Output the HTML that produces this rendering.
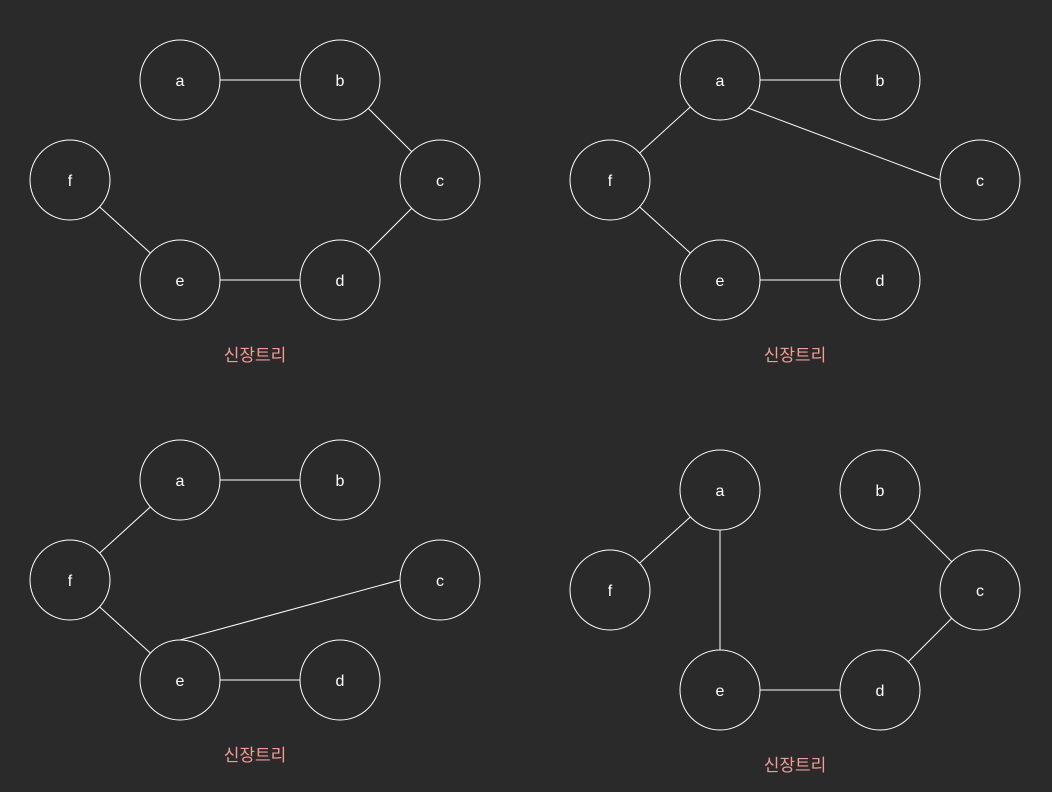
<!DOCTYPE html>
<html><head><meta charset="utf-8"><style>
html,body{margin:0;padding:0;background:#2a2a2a;}
svg{display:block;}
text{font-family:"Liberation Sans","Noto Sans CJK KR",sans-serif;}
</style></head><body>
<svg width="1052" height="792" xmlns="http://www.w3.org/2000/svg">
<rect width="1052" height="792" fill="#2a2a2a"/>
<g stroke="#ffffff" stroke-width="1">
<line x1="180" y1="80" x2="340" y2="80"/><line x1="340" y1="80" x2="440" y2="180"/><line x1="440" y1="180" x2="340" y2="280"/><line x1="340" y1="280" x2="180" y2="280"/><line x1="180" y1="280" x2="70" y2="180"/>
<line x1="720" y1="80" x2="880" y2="80"/><line x1="748" y1="108" x2="940" y2="180"/><line x1="720" y1="80" x2="610" y2="180"/><line x1="610" y1="180" x2="720" y2="280"/><line x1="720" y1="280" x2="880" y2="280"/>
<line x1="180" y1="480" x2="340" y2="480"/><line x1="180" y1="480" x2="70" y2="580"/><line x1="70" y1="580" x2="180" y2="680"/><line x1="180" y1="640" x2="400" y2="580"/><line x1="180" y1="680" x2="340" y2="680"/>
<line x1="720" y1="490" x2="610" y2="590"/><line x1="720" y1="490" x2="720" y2="690"/><line x1="720" y1="690" x2="880" y2="690"/><line x1="880" y1="690" x2="980" y2="590"/><line x1="980" y1="590" x2="880" y2="490"/>
</g>
<g fill="#2a2a2a" stroke="#ffffff" stroke-width="1">
<circle cx="180" cy="80" r="40"/><circle cx="340" cy="80" r="40"/><circle cx="440" cy="180" r="40"/><circle cx="340" cy="280" r="40"/><circle cx="180" cy="280" r="40"/><circle cx="70" cy="180" r="40"/>
<circle cx="720" cy="80" r="40"/><circle cx="880" cy="80" r="40"/><circle cx="980" cy="180" r="40"/><circle cx="880" cy="280" r="40"/><circle cx="720" cy="280" r="40"/><circle cx="610" cy="180" r="40"/>
<circle cx="180" cy="480" r="40"/><circle cx="340" cy="480" r="40"/><circle cx="440" cy="580" r="40"/><circle cx="340" cy="680" r="40"/><circle cx="180" cy="680" r="40"/><circle cx="70" cy="580" r="40"/>
<circle cx="720" cy="490" r="40"/><circle cx="880" cy="490" r="40"/><circle cx="980" cy="590" r="40"/><circle cx="880" cy="690" r="40"/><circle cx="720" cy="690" r="40"/><circle cx="610" cy="590" r="40"/>
</g>
<g fill="#ffffff" font-size="16" text-anchor="middle">
<text x="180" y="86">a</text><text x="340" y="86">b</text><text x="440" y="186">c</text><text x="340" y="286">d</text><text x="180" y="286">e</text><text x="70" y="186">f</text>
<text x="720" y="86">a</text><text x="880" y="86">b</text><text x="980" y="186">c</text><text x="880" y="286">d</text><text x="720" y="286">e</text><text x="610" y="186">f</text>
<text x="180" y="486">a</text><text x="340" y="486">b</text><text x="440" y="586">c</text><text x="340" y="686">d</text><text x="180" y="686">e</text><text x="70" y="586">f</text>
<text x="720" y="496">a</text><text x="880" y="496">b</text><text x="980" y="596">c</text><text x="880" y="696">d</text><text x="720" y="696">e</text><text x="610" y="596">f</text>
</g>
<g fill="#f19c99" font-size="17" text-anchor="middle">
<text x="255" y="361">신장트리</text><text x="795" y="361">신장트리</text>
<text x="255" y="761">신장트리</text><text x="795" y="771">신장트리</text>
</g>
</svg>
</body></html>
